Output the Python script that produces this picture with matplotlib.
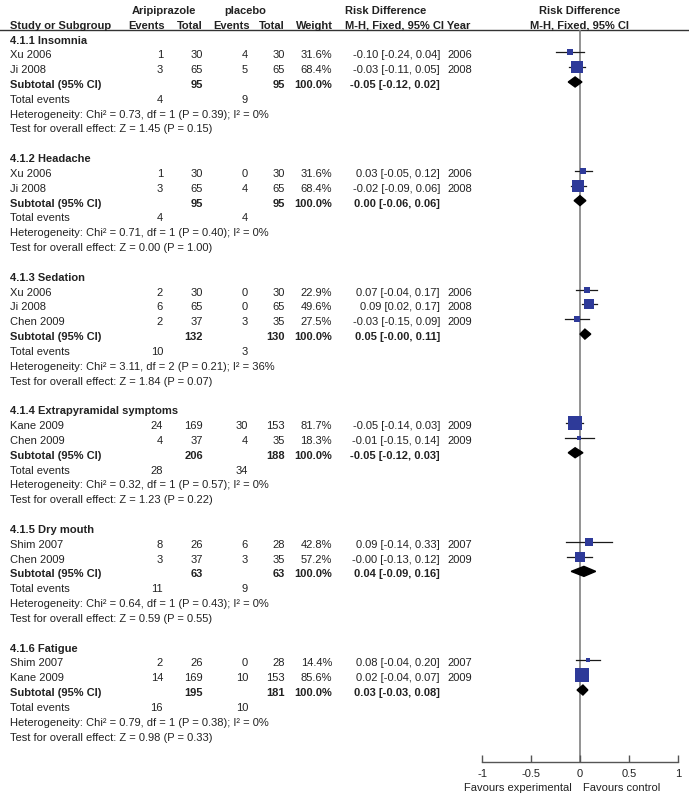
import numpy as np
import matplotlib
matplotlib.use("Agg")
import matplotlib.pyplot as plt
from matplotlib.patches import Polygon

plt.rcParams['font.family'] = ['Liberation Sans', 'DejaVu Sans']

# ---- data ----
groups = ["4.1.1 Insomnia", "4.1.2 Headache", "4.1.3 Sedation",
          "4.1.4 Extrapyramidal symptoms", "4.1.5 Dry mouth", "4.1.6 Fatigue"]
study_names = [["Xu 2006", "Ji 2008"],
               ["Xu 2006", "Ji 2008"],
               ["Xu 2006", "Ji 2008", "Chen 2009"],
               ["Kane 2009", "Chen 2009"],
               ["Shim 2007", "Chen 2009"],
               ["Shim 2007", "Kane 2009"]]
exp_events = [[1, 3], [1, 3], [2, 6, 2], [24, 4], [8, 3], [2, 14]]
exp_total = [[30, 65], [30, 65], [30, 65, 37], [169, 37], [26, 37], [26, 169]]
ctl_events = [[4, 5], [0, 4], [0, 0, 3], [30, 4], [6, 3], [0, 10]]
ctl_total = [[30, 65], [30, 65], [30, 65, 35], [153, 35], [28, 35], [28, 153]]
weights = [[31.6, 68.4], [31.6, 68.4], [22.9, 49.6, 27.5], [81.7, 18.3],
           [42.8, 57.2], [14.4, 85.6]]
rd = [[-0.10, -0.03], [0.03, -0.02], [0.07, 0.09, -0.03], [-0.05, -0.01],
      [0.09, -0.0], [0.08, 0.02]]
rd_lo = [[-0.24, -0.11], [-0.05, -0.09], [-0.04, 0.02, -0.15], [-0.14, -0.15],
         [-0.14, -0.13], [-0.04, -0.04]]
rd_hi = [[0.04, 0.05], [0.12, 0.06], [0.17, 0.17, 0.09], [0.03, 0.14],
         [0.33, 0.12], [0.20, 0.07]]
years = [[2006, 2008], [2006, 2008], [2006, 2008, 2009], [2009, 2009],
         [2007, 2009], [2007, 2009]]

sub_exp_total = [95, 95, 132, 206, 63, 195]
sub_ctl_total = [95, 95, 130, 188, 63, 181]
sub_rd = [-0.05, 0.00, 0.05, -0.05, 0.04, 0.03]
sub_lo = [-0.12, -0.06, -0.0, -0.12, -0.09, -0.03]
sub_hi = [0.02, 0.06, 0.11, 0.03, 0.16, 0.08]
tot_exp_events = [4, 4, 10, 28, 11, 16]
tot_ctl_events = [9, 4, 3, 34, 9, 10]
het_chi = [0.73, 0.71, 3.11, 0.32, 0.64, 0.79]
het_df = [1, 1, 2, 1, 1, 1]
het_p = [0.39, 0.40, 0.21, 0.57, 0.43, 0.38]
het_i2 = [0, 0, 36, 0, 0, 0]
z_val = [1.45, 0.00, 1.84, 1.23, 0.59, 0.98]
z_p = [0.15, 1.00, 0.07, 0.22, 0.55, 0.33]

W, H = 689, 800
TXT = '#222222'
BLUE = '#2e3a99'
FS = 8

fig = plt.figure(figsize=(W / 100, H / 100), dpi=100)

# text layer in pixel coordinates
tax = fig.add_axes([0, 0, 1, 1])
tax.set_xlim(0, W)
tax.set_ylim(H, 0)
tax.axis('off')

# forest panel: x in risk difference, y in pixel rows
top, bottom, x_left, x_right = 30, 762, 482, 678
fax = fig.add_axes([x_left / W, (H - bottom) / H, (x_right - x_left) / W, (bottom - top) / H])
fax.set_xlim(-1, 1)
fax.set_ylim(bottom, top)
fax.patch.set_alpha(0)
for s in ['top', 'right', 'left']:
    fax.spines[s].set_visible(False)
fax.spines['bottom'].set_color('#555555')
fax.spines['bottom'].set_linewidth(1.0)
fax.set_yticks([])
fax.set_xticks([-1, -0.5, 0, 0.5, 1])
fax.set_xticklabels(['-1', '-0.5', '0', '0.5', '1'])
fax.tick_params(axis='x', direction='in', length=5, width=1.0, color='#555555',
                labelsize=FS, labelcolor=TXT, pad=5)
fax.axvline(0, color='#808080', lw=1.2, zorder=1)


def put(x, y, s, ha='left', bold=False):
    tax.text(x, y + 6, s, ha=ha, va='baseline', fontsize=FS, color=TXT,
             fontweight='bold' if bold else 'normal')


# header
put(164, 8, "Aripiprazole", ha='center', bold=True)
put(245, 8, "placebo", ha='center', bold=True)
put(345, 8, "Risk Difference", bold=True)
put(580, 8, "Risk Difference", ha='center', bold=True)
put(10, 23, "Study or Subgroup", bold=True)
put(165, 23, "Events", ha='right', bold=True)
put(203, 23, "Total", ha='right', bold=True)
put(250, 23, "Events", ha='right', bold=True)
put(285, 23, "Total", ha='right', bold=True)
put(333, 23, "Weight", ha='right', bold=True)
put(345, 23, "M-H, Fixed, 95% CI Year", bold=True)
put(580, 23, "M-H, Fixed, 95% CI", ha='center', bold=True)
tax.plot([0, W], [30, 30], color='#333333', lw=1.0)

y0, step = 37.5, 14.83
row = 0
for g in range(len(groups)):
    y = y0 + row * step
    put(10, y, groups[g], bold=True)
    row += 1
    for k in range(len(study_names[g])):
        y = y0 + row * step
        put(10, y, study_names[g][k])
        put(163, y, str(exp_events[g][k]), ha='right')
        put(203, y, str(exp_total[g][k]), ha='right')
        put(248, y, str(ctl_events[g][k]), ha='right')
        put(285, y, str(ctl_total[g][k]), ha='right')
        put(332, y, f"{weights[g][k]:.1f}%", ha='right')
        put(440, y, f"{rd[g][k]:.2f} [{rd_lo[g][k]:.2f}, {rd_hi[g][k]:.2f}]", ha='right')
        put(447, y, str(years[g][k]))
        fax.plot([rd_lo[g][k], rd_hi[g][k]], [y, y], color='#1a1a1a', lw=0.9,
                 zorder=2, clip_on=False)
        side = (2 + 0.145 * weights[g][k]) * 0.72
        fax.scatter([rd[g][k]], [y], marker='s', s=side ** 2, color=BLUE,
                    linewidths=0, zorder=3, clip_on=False)
        row += 1
    y = y0 + row * step
    put(10, y, "Subtotal (95% CI)", bold=True)
    put(203, y, str(sub_exp_total[g]), ha='right', bold=True)
    put(285, y, str(sub_ctl_total[g]), ha='right', bold=True)
    put(332, y, "100.0%", ha='right', bold=True)
    put(440, y, f"{sub_rd[g]:.2f} [{sub_lo[g]:.2f}, {sub_hi[g]:.2f}]", ha='right', bold=True)
    fax.add_patch(Polygon([[sub_lo[g], y], [sub_rd[g], y - 5], [sub_hi[g], y],
                           [sub_rd[g], y + 5]], closed=True, color='black', zorder=3))
    row += 1
    y = y0 + row * step
    put(10, y, "Total events")
    put(163, y, str(tot_exp_events[g]), ha='right')
    put(248, y, str(tot_ctl_events[g]), ha='right')
    row += 1
    y = y0 + row * step
    put(10, y, f"Heterogeneity: Chi² = {het_chi[g]:.2f}, df = {het_df[g]} "
               f"(P = {het_p[g]:.2f}); I² = {het_i2[g]}%")
    row += 1
    y = y0 + row * step
    put(10, y, f"Test for overall effect: Z = {z_val[g]:.2f} (P = {z_p[g]:.2f})")
    row += 2

put(518, 785, "Favours experimental", ha='center')
put(622, 785, "Favours control", ha='center')

fig.savefig("out.png", dpi=100)
